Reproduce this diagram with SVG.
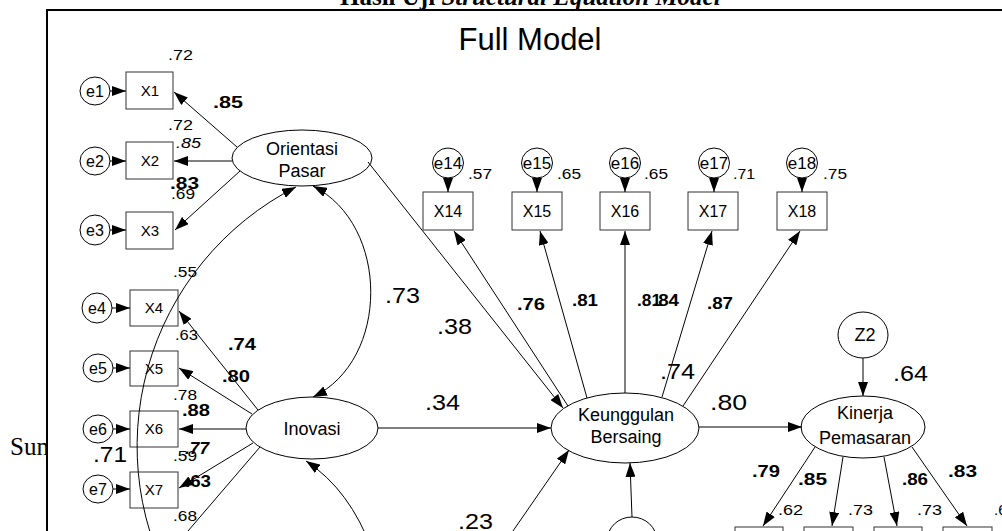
<svg xmlns="http://www.w3.org/2000/svg" width="1002" height="531" viewBox="0 0 1002 531">
<style>
  text{font-family:"Liberation Sans",Arial,sans-serif;fill:#000}
  .ln{stroke:#000;stroke-width:1;fill:none}
  .ar{stroke:#000;stroke-width:1;fill:none;marker-end:url(#ah)}
  .box{fill:none;stroke:#333;stroke-width:1}
  .lat{fill:#fff;stroke:#000;stroke-width:1}
  .nl{font-size:18px;text-anchor:middle}
  .xl{font-size:15px;text-anchor:middle}
  .xl2{font-size:16px;text-anchor:middle}
  .el{font-size:16px;text-anchor:middle}
  .el2{font-size:17px;text-anchor:middle}
  .sm{font-size:15px}
  .it{font-size:15px;font-style:italic}
  .bd{font-size:16px;font-weight:bold}
  .lg{font-size:22px}
  .doc{font-family:"Liberation Serif","Times New Roman",serif;font-size:25px}
</style>
<defs>
  <marker id="ah" viewBox="0 0 14 10" refX="14" refY="5" markerWidth="14" markerHeight="10" markerUnits="userSpaceOnUse" orient="auto-start-reverse">
    <path d="M0,0 L14,5 L0,10 z" fill="#000"/>
  </marker>
</defs>

<rect x="0" y="0" width="1002" height="531" fill="#fff"/>

<!-- surrounding document text -->
<text class="doc" x="10" y="455">Sun</text>
<text class="doc" x="340" y="5" font-weight="bold">Hasil Uji <tspan font-style="italic">Structural Equation Model</tspan></text>

<!-- figure frame -->
<rect x="47" y="10" width="1000" height="600" fill="#fff" stroke="#000" stroke-width="2"/>
<text x="530" y="50" font-size="31" text-anchor="middle">Full Model</text>

<!-- latent variables -->
<g id="orientasi-pasar">
  <ellipse class="lat" cx="302" cy="158" rx="70" ry="28"/>
  <text class="nl" x="302" y="155">Orientasi</text>
  <text class="nl" x="302" y="177">Pasar</text>
</g>
<g id="inovasi">
  <ellipse class="lat" cx="312" cy="428" rx="66" ry="31"/>
  <text class="nl" x="312" y="435">Inovasi</text>
</g>
<g id="keunggulan-bersaing">
  <ellipse class="lat" cx="625" cy="428" rx="74" ry="35"/>
  <text class="nl" x="626" y="421">Keunggulan</text>
  <text class="nl" x="626" y="443">Bersaing</text>
</g>
<g id="kinerja-pemasaran">
  <ellipse class="lat" cx="863" cy="427" rx="62" ry="31"/>
  <text class="nl" x="865" y="419">Kinerja</text>
  <text class="nl" x="865" y="444">Pemasaran</text>
</g>
<g id="z2">
  <ellipse class="lat" cx="863" cy="335" rx="25" ry="23"/>
  <text class="nl" x="865" y="341">Z2</text>
</g>
<g id="z1">
  <ellipse class="lat" cx="632" cy="541" rx="25" ry="24"/>
</g>

<!-- observed indicators, left column -->
<g id="x1"><rect class="box" x="126" y="72" width="47" height="37"/><text class="xl" x="150" y="96">X1</text></g>
<g id="x2"><rect class="box" x="126" y="142" width="47" height="37"/><text class="xl" x="150" y="166">X2</text></g>
<g id="x3"><rect class="box" x="126" y="212" width="47" height="37"/><text class="xl" x="150" y="236">X3</text></g>
<g id="x4"><rect class="box" x="130" y="290" width="48" height="36"/><text class="xl" x="154" y="313">X4</text></g>
<g id="x5"><rect class="box" x="130" y="351" width="48" height="35"/><text class="xl" x="154" y="374">X5</text></g>
<g id="x6"><rect class="box" x="130" y="411" width="48" height="36"/><text class="xl" x="154" y="434">X6</text></g>
<g id="x7"><rect class="box" x="130" y="472" width="48" height="36"/><text class="xl" x="154" y="495">X7</text></g>

<!-- error terms, left column -->
<g id="e1"><ellipse class="lat" cx="95" cy="91" rx="15" ry="14"/><text class="el" x="95" y="97">e1</text></g>
<g id="e2"><ellipse class="lat" cx="95" cy="161" rx="15" ry="14"/><text class="el" x="95" y="167">e2</text></g>
<g id="e3"><ellipse class="lat" cx="95" cy="230" rx="15" ry="15"/><text class="el" x="95" y="236">e3</text></g>
<g id="e4"><ellipse class="lat" cx="97" cy="308" rx="15" ry="15"/><text class="el" x="97" y="314">e4</text></g>
<g id="e5"><ellipse class="lat" cx="98" cy="368" rx="15" ry="14"/><text class="el" x="98" y="374">e5</text></g>
<g id="e6"><ellipse class="lat" cx="98" cy="429" rx="15" ry="14"/><text class="el" x="98" y="435">e6</text></g>
<g id="e7"><ellipse class="lat" cx="98" cy="489" rx="15" ry="14"/><text class="el" x="98" y="495">e7</text></g>

<!-- indicators of Keunggulan Bersaing -->
<g id="x14"><rect class="box" x="423" y="192" width="50" height="38"/><text class="xl2" x="448" y="217">X14</text></g>
<g id="x15"><rect class="box" x="512" y="192" width="50" height="38"/><text class="xl2" x="537" y="217">X15</text></g>
<g id="x16"><rect class="box" x="600" y="192" width="50" height="38"/><text class="xl2" x="625" y="217">X16</text></g>
<g id="x17"><rect class="box" x="688" y="192" width="50" height="38"/><text class="xl2" x="713" y="217">X17</text></g>
<g id="x18"><rect class="box" x="777" y="192" width="50" height="38"/><text class="xl2" x="802" y="217">X18</text></g>
<g id="e14"><ellipse class="lat" cx="448" cy="163" rx="15.5" ry="15"/><text class="el2" x="448" y="169">e14</text></g>
<g id="e15"><ellipse class="lat" cx="537" cy="163" rx="15.5" ry="15"/><text class="el2" x="537" y="169">e15</text></g>
<g id="e16"><ellipse class="lat" cx="625" cy="163" rx="15.5" ry="15"/><text class="el2" x="625" y="169">e16</text></g>
<g id="e17"><ellipse class="lat" cx="714" cy="163" rx="15.5" ry="15"/><text class="el2" x="714" y="169">e17</text></g>
<g id="e18"><ellipse class="lat" cx="802" cy="163" rx="15.5" ry="15"/><text class="el2" x="802" y="169">e18</text></g>

<!-- indicators of Kinerja Pemasaran -->
<g id="y1"><rect class="box" x="735" y="527" width="48" height="38"/></g>
<g id="y2"><rect class="box" x="804" y="527" width="49" height="38"/></g>
<g id="y3"><rect class="box" x="874" y="527" width="48" height="38"/></g>
<g id="y4"><rect class="box" x="943" y="527" width="49" height="38"/></g>

<!-- paths -->
<g id="connectors">
  <path class="ar" d="M110,91 L126,91"/>
  <path class="ar" d="M110,161 L126,161"/>
  <path class="ar" d="M110,230 L126,230"/>
  <path class="ar" d="M112,308 L130,308"/>
  <path class="ar" d="M113,368 L130,368"/>
  <path class="ar" d="M113,429 L130,429"/>
  <path class="ar" d="M113,489 L130,489"/>

  <path class="ar" d="M237,147 L174,92"/>
  <path class="ar" d="M232,161 L174,161"/>
  <path class="ar" d="M240,171 L175,230"/>

  <path class="ar" d="M258,410 L179,311"/>
  <path class="ar" d="M252,414 L179,368"/>
  <path class="ar" d="M246,429 L179,429"/>
  <path class="ar" d="M253,443 L179,488"/>
  <path class="ln" d="M260,447 L146,580"/>

  <path class="ln" d="M313,186 C390,225 390,360 313,397" marker-start="url(#ah)" marker-end="url(#ah)"/>
  <path class="ln" d="M296,187 A291,291 0 0 0 181,600" marker-start="url(#ah)"/>
  <path class="ar" d="M372,550 Q350,490 306,461"/>

  <path class="ar" d="M368,162 L563,408"/>
  <path class="ar" d="M378,428 L551,428"/>
  <path class="ar" d="M486,570 L569,450"/>
  <path class="ar" d="M632,517 L630,463"/>

  <path class="ar" d="M568,406 L454,231"/>
  <path class="ar" d="M587,398 L540,231"/>
  <path class="ar" d="M625,393 L625,231"/>
  <path class="ar" d="M662,397 L712,231"/>
  <path class="ar" d="M683,406 L800,231"/>

  <path class="ar" d="M448,178 L448,192"/>
  <path class="ar" d="M537,178 L537,192"/>
  <path class="ar" d="M625,178 L625,192"/>
  <path class="ar" d="M714,178 L714,192"/>
  <path class="ar" d="M802,178 L802,192"/>

  <path class="ar" d="M699,427 L802,427"/>
  <path class="ar" d="M863,358 L863,396"/>

  <path class="ar" d="M815,447 L763,526"/>
  <path class="ar" d="M843,457 L832,526"/>
  <path class="ar" d="M884,457 L897,526"/>
  <path class="ar" d="M912,447 L967,526"/>
</g>

<!-- estimates -->
<g id="estimates">
  <text class="sm" x="168" y="60" textLength="25" lengthAdjust="spacingAndGlyphs">.72</text>
  <text class="sm" x="168" y="130" textLength="25" lengthAdjust="spacingAndGlyphs">.72</text>
  <text class="it" x="176" y="148" textLength="25" lengthAdjust="spacingAndGlyphs">.85</text>
  <text class="sm" x="171" y="199" textLength="24" lengthAdjust="spacingAndGlyphs">.69</text>
  <text class="sm" x="173" y="277" textLength="24" lengthAdjust="spacingAndGlyphs">.55</text>
  <text class="sm" x="175" y="340" textLength="23" lengthAdjust="spacingAndGlyphs">.63</text>
  <text class="sm" x="173" y="400" textLength="24" lengthAdjust="spacingAndGlyphs">.78</text>
  <text class="sm" x="173" y="461" textLength="24" lengthAdjust="spacingAndGlyphs">.59</text>
  <text class="sm" x="173" y="521" textLength="24" lengthAdjust="spacingAndGlyphs">.68</text>

  <text class="bd" x="213" y="108" textLength="30" lengthAdjust="spacingAndGlyphs">.85</text>
  <text class="bd" x="170" y="189" textLength="29" lengthAdjust="spacingAndGlyphs">.83</text>
  <text class="bd" x="228" y="350" textLength="28" lengthAdjust="spacingAndGlyphs">.74</text>
  <text class="bd" x="222" y="382" textLength="28" lengthAdjust="spacingAndGlyphs">.80</text>
  <text class="bd" x="182" y="416" textLength="28" lengthAdjust="spacingAndGlyphs">.88</text>
  <text class="bd" x="185" y="454" font-style="italic" textLength="24" lengthAdjust="spacingAndGlyphs">.77</text>
  <text class="bd" x="185" y="487" textLength="26" lengthAdjust="spacingAndGlyphs">.63</text>
  <text class="lg" x="93" y="462" textLength="34" lengthAdjust="spacingAndGlyphs">.71</text>

  <text class="sm" x="468" y="179" textLength="24" lengthAdjust="spacingAndGlyphs">.57</text>
  <text class="sm" x="557" y="179" textLength="24" lengthAdjust="spacingAndGlyphs">.65</text>
  <text class="sm" x="644" y="179" textLength="24" lengthAdjust="spacingAndGlyphs">.65</text>
  <text class="sm" x="733" y="179" textLength="22" lengthAdjust="spacingAndGlyphs">.71</text>
  <text class="sm" x="823" y="179" textLength="24" lengthAdjust="spacingAndGlyphs">.75</text>

  <text class="lg" x="385" y="303" textLength="35" lengthAdjust="spacingAndGlyphs">.73</text>
  <text class="lg" x="437" y="334" textLength="35" lengthAdjust="spacingAndGlyphs">.38</text>
  <text class="lg" x="425" y="410" textLength="35" lengthAdjust="spacingAndGlyphs">.34</text>
  <text class="lg" x="458" y="529" textLength="35" lengthAdjust="spacingAndGlyphs">.23</text>
  <text class="lg" x="660" y="379" textLength="35" lengthAdjust="spacingAndGlyphs">.74</text>
  <text class="lg" x="710" y="410" textLength="37" lengthAdjust="spacingAndGlyphs">.80</text>
  <text class="lg" x="893" y="381" textLength="35" lengthAdjust="spacingAndGlyphs">.64</text>

  <text class="bd" x="517" y="310" textLength="28" lengthAdjust="spacingAndGlyphs">.76</text>
  <text class="bd" x="572" y="306" textLength="26" lengthAdjust="spacingAndGlyphs">.81</text>
  <text class="bd" x="637" y="306" textLength="24" lengthAdjust="spacingAndGlyphs">.81</text>
  <text class="bd" x="653" y="306" textLength="26" lengthAdjust="spacingAndGlyphs">.84</text>
  <text class="bd" x="707" y="309" textLength="26" lengthAdjust="spacingAndGlyphs">.87</text>

  <text class="bd" x="752" y="477" textLength="28" lengthAdjust="spacingAndGlyphs">.79</text>
  <text class="bd" x="798" y="485" textLength="29" lengthAdjust="spacingAndGlyphs">.85</text>
  <text class="bd" x="902" y="485" textLength="26" lengthAdjust="spacingAndGlyphs">.86</text>
  <text class="bd" x="948" y="477" textLength="29" lengthAdjust="spacingAndGlyphs">.83</text>
  <text class="sm" x="778" y="515" textLength="25" lengthAdjust="spacingAndGlyphs">.62</text>
  <text class="sm" x="848" y="515" textLength="25" lengthAdjust="spacingAndGlyphs">.73</text>
  <text class="sm" x="917" y="515" textLength="25" lengthAdjust="spacingAndGlyphs">.73</text>
  <text class="sm" x="994" y="515">.6</text>
</g>
</svg>
